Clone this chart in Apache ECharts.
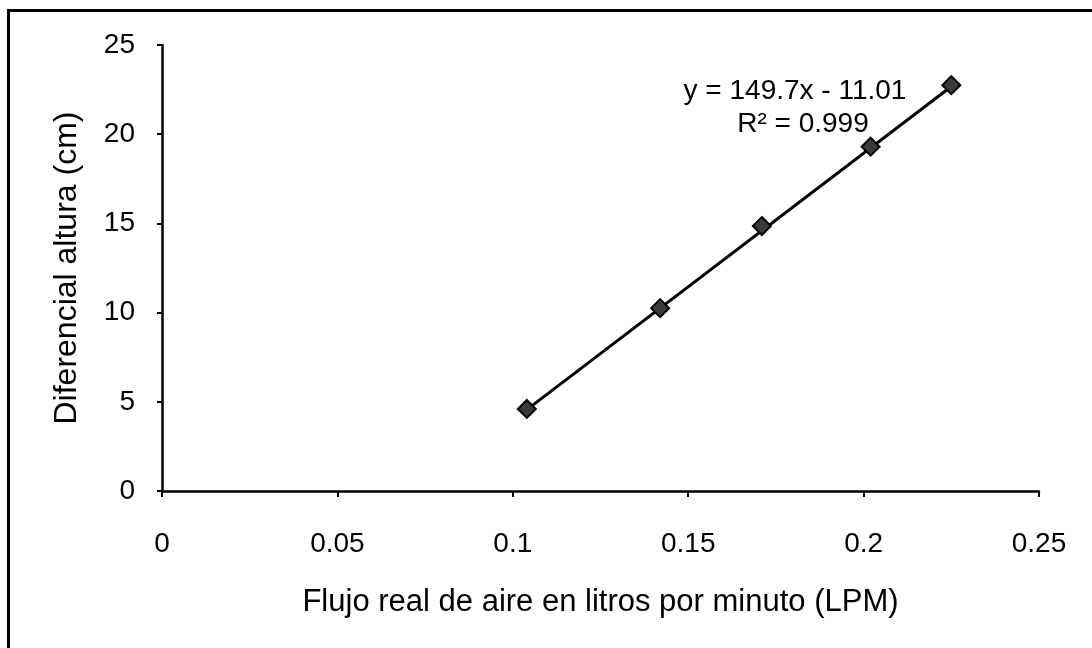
<!DOCTYPE html>
<html>
<head>
<meta charset="utf-8">
<script src="https://cdn.jsdelivr.net/npm/echarts@6/dist/echarts.min.js"></script>
<style>
html,body{margin:0;padding:0;background:#fff;}
#frame{position:absolute;left:7px;top:9px;width:1100px;height:660px;border-top:3px solid #000;border-left:3px solid #000;box-sizing:border-box;}
#chart{position:absolute;left:0;top:0;width:1092px;height:648px;}
</style>
</head>
<body>
<div id="frame"></div>
<div id="chart"></div>
<script>
// Data
const flowLPM = [0.104, 0.142, 0.171, 0.202, 0.225];
const heightCm = [4.6, 10.25, 14.85, 19.3, 22.75];
const trendSlope = [149.7];
const trendIntercept = [-11.01];
const xTickLabels = ['0', '0.05', '0.1', '0.15', '0.2', '0.25'];
const yTickLabels = ['0', '5', '10', '15', '20', '25'];
const equationText = ['y = 149.7x - 11.01', 'R² = 0.999'];

const points = flowLPM.map((x, i) => [x, heightCm[i]]);
const xFirst = flowLPM[0], xLast = flowLPM[flowLPM.length - 1];
const trend = [xFirst, xLast].map(x => [x, trendSlope[0] * x + trendIntercept[0]]);

const font = 'Liberation Sans, Arial, sans-serif';
const chart = echarts.init(document.getElementById('chart'));
chart.setOption({
  animation: false,
  backgroundColor: 'transparent',
  grid: {left: 162, right: 53, top: 45, bottom: 157},
  xAxis: {
    type: 'value', min: 0, max: 0.25, interval: 0.05,
    name: 'Flujo real de aire en litros por minuto (LPM)',
    nameLocation: 'middle', nameGap: 96,
    nameTextStyle: {fontFamily: font, fontSize: 31, color: '#000'},
    axisLine: {show: true, onZero: false, lineStyle: {color: '#000', width: 2.5}},
    axisTick: {show: true, length: 6, lineStyle: {color: '#000', width: 2}},
    axisLabel: {margin: 39, fontFamily: font, fontSize: 28, color: '#000',
      formatter: (v) => xTickLabels[Math.round(v / 0.05)]},
    splitLine: {show: false}
  },
  yAxis: {
    type: 'value', min: 0, max: 25, interval: 5,
    name: 'Diferencial altura (cm)',
    nameLocation: 'middle', nameGap: 79, nameRotate: 90,
    nameTextStyle: {fontFamily: font, fontSize: 32, color: '#000'},
    axisLine: {show: true, onZero: false, lineStyle: {color: '#000', width: 2.5}},
    axisTick: {show: true, length: 5, lineStyle: {color: '#000', width: 2}},
    axisLabel: {margin: 27, fontFamily: font, fontSize: 28, color: '#000',
      formatter: (v) => yTickLabels[Math.round(v / 5)]},
    splitLine: {show: false}
  },
  series: [
    {
      type: 'line', data: trend, symbol: 'none',
      lineStyle: {color: '#000', width: 3}, z: 2
    },
    {
      type: 'scatter', data: points, symbol: 'diamond', symbolSize: [18, 18],
      itemStyle: {color: '#3a3a3a', borderColor: '#000', borderWidth: 2, opacity: 1}, z: 3
    }
  ],
  graphic: [
    {type: 'text', x: 795, y: 91, z: 10,
      style: {text: equationText[0], font: '28px ' + font, fill: '#000', textAlign: 'center', textVerticalAlign: 'middle'}},
    {type: 'text', x: 803, y: 124, z: 10,
      style: {text: equationText[1], font: '28px ' + font, fill: '#000', textAlign: 'center', textVerticalAlign: 'middle'}}
  ]
});
</script>
</body>
</html>
